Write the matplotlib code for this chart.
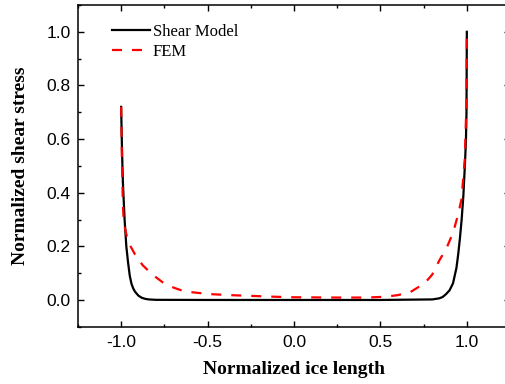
import matplotlib
matplotlib.use('Agg')
import matplotlib.pyplot as plt
from matplotlib.ticker import MultipleLocator
import numpy as np

# values
shear_x = [-1.0, -0.995, -0.99, -0.98, -0.97, -0.96, -0.95, -0.94, -0.93, -0.92,
           -0.90, -0.88, -0.86, -0.84, -0.80, -0.5, 0.0, 0.5, 0.80, 0.84, 0.86,
           0.88, 0.90, 0.92, 0.94, 0.95, 0.96, 0.97, 0.98, 0.99, 0.995, 0.998, 1.0]
shear_y = [0.72, 0.56, 0.44, 0.30, 0.20, 0.14, 0.09, 0.06, 0.043, 0.031,
           0.016, 0.008, 0.004, 0.002, 0.0005, 0.0, 0.0, 0.0, 0.002, 0.006, 0.011,
           0.022, 0.036, 0.062, 0.12, 0.17, 0.23, 0.30, 0.39, 0.52, 0.60, 0.70, 1.0]

fem_x = [-1.0, -0.995, -0.99, -0.985, -0.97, -0.954, -0.92, -0.876, -0.82, -0.76,
         -0.70, -0.635, -0.55, -0.49, -0.37, -0.24, -0.11, 0.0, 0.25, 0.42, 0.53,
         0.60, 0.67, 0.757, 0.80, 0.843, 0.88, 0.92, 0.95, 0.969, 0.988, 0.998, 1.0]
fem_y = [0.72, 0.50, 0.36, 0.29, 0.245, 0.21, 0.17, 0.13, 0.095, 0.066,
         0.047, 0.032, 0.026, 0.022, 0.018, 0.015, 0.012, 0.010, 0.009, 0.009, 0.012,
         0.018, 0.028, 0.063, 0.095, 0.15, 0.19, 0.25, 0.32, 0.375, 0.525, 0.74, 1.0]

xticks = [-1.0, -0.5, 0.0, 0.5, 1.0]
yticks = [0.0, 0.2, 0.4, 0.6, 0.8, 1.0]

plt.rcParams.update({
    'font.family': 'sans-serif',
    'font.sans-serif': ['Liberation Sans', 'DejaVu Sans'],
    'axes.unicode_minus': False,
})

fig = plt.figure(figsize=(5.06, 3.84), dpi=100)
# right spine sits just past the figure edge, as in the cropped original
ax = fig.add_axes([0.154, 0.149, 0.854, 0.838])

ax.plot(shear_x, shear_y, color='black', lw=1.6, label='Shear Model')
ax.plot(fem_x, fem_y, color='#ff0000', lw=1.6, dashes=(4.5, 4.5), label='FEM')

ax.set_xlim(-1.25, 1.25)
ax.set_ylim(-0.1, 1.1)
ax.set_xticks(xticks)
ax.set_xticklabels([f'{v:.1f}' for v in xticks])
ax.set_yticks(yticks)
ax.set_yticklabels([f'{v:.1f}' for v in yticks])
ax.xaxis.set_minor_locator(MultipleLocator(0.25))
ax.yaxis.set_minor_locator(MultipleLocator(0.1))
ax.tick_params(which='both', direction='in', top=True, right=True,
               width=1.0, labelsize=12.5, colors='black')
ax.tick_params(which='major', length=4.5)
ax.tick_params(which='minor', length=2.5)
ax.tick_params(axis='x', pad=6)
ax.tick_params(axis='y', pad=5)
for s in ax.spines.values():
    s.set_linewidth(1.1)

serif = ['Liberation Serif', 'DejaVu Serif']
ax.set_xlabel('Normalized ice length', family=serif, fontweight='bold',
              fontsize=14, labelpad=8)
ax.set_ylabel('Normalized shear stress', family=serif, fontweight='bold',
              fontsize=14, labelpad=13)

ax.legend(loc='upper left', bbox_to_anchor=(0.079, 0.94), frameon=False,
          borderpad=0, borderaxespad=0,
          prop={'family': serif, 'size': 12}, handlelength=2.3,
          handletextpad=0.15, labelspacing=0.2)

fig.savefig('out.png', dpi=100)
